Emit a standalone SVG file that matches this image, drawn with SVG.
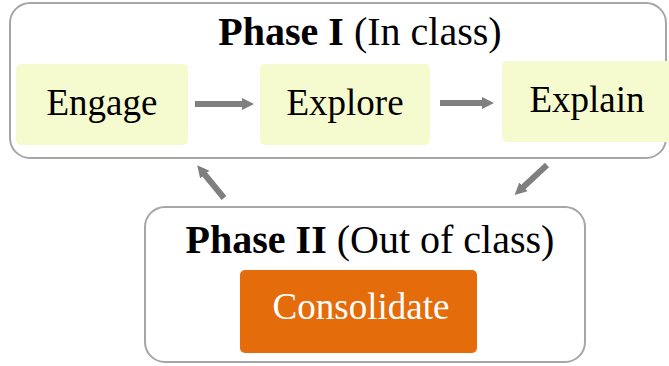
<svg xmlns="http://www.w3.org/2000/svg" width="669" height="366" viewBox="0 0 669 366">
  <style>
    .frame { fill: #ffffff; stroke: #a6a6a6; stroke-width: 2; }
    .step { fill: #f6fbcf; }
    .label { font-family: "Liberation Serif", "Times New Roman", serif; font-size: 37px; fill: #000000; }
    .title { font-family: "Liberation Serif", "Times New Roman", serif; font-size: 40px; fill: #000000; }
    .flow { stroke: #7f7f7f; stroke-width: 6; fill: none; }
  </style>
  <defs>
    <marker id="head" viewBox="0 0 10 10" refX="5" refY="5" markerWidth="2" markerHeight="2.2" orient="auto" markerUnits="strokeWidth">
      <path d="M0,0 L10,5 L0,10 Z" fill="#7f7f7f"/>
    </marker>
  </defs>

  <g id="phase1">
    <rect class="frame" x="10" y="3" width="656" height="155" rx="20"/>
    <text class="title" x="360" y="45" text-anchor="middle"><tspan font-weight="bold">Phase I</tspan> (In class)</text>
  </g>

  <g id="engage">
    <rect class="step" x="16" y="64" width="172" height="81" rx="5"/>
    <text class="label" x="102" y="115" text-anchor="middle">Engage</text>
  </g>

  <g id="explore">
    <rect class="step" x="260" y="64" width="170" height="81" rx="5"/>
    <text class="label" x="345" y="115" text-anchor="middle">Explore</text>
  </g>

  <g id="explain">
    <rect class="step" x="502" y="61" width="180" height="81" rx="5"/>
    <text class="label" x="587" y="112" text-anchor="middle">Explain</text>
  </g>

  <g id="phase2">
    <rect class="frame" x="145" y="207" width="440" height="155" rx="20"/>
    <text class="title" x="370" y="253" text-anchor="middle"><tspan font-weight="bold">Phase II</tspan> (Out of class)</text>
  </g>

  <g id="consolidate">
    <rect x="240" y="270" width="237" height="83" rx="5" fill="#e46c0a"/>
    <text class="label" x="361" y="319" text-anchor="middle" style="fill:#ffffff">Consolidate</text>
  </g>

  <g id="connectors">
    <line class="flow" x1="195" y1="104" x2="248" y2="104" marker-end="url(#head)"/>
    <line class="flow" x1="440" y1="103" x2="488" y2="103" marker-end="url(#head)"/>
    <line class="flow" x1="224" y1="198" x2="201" y2="170" marker-end="url(#head)"/>
    <line class="flow" x1="547" y1="165" x2="519" y2="191" marker-end="url(#head)"/>
  </g>
</svg>
